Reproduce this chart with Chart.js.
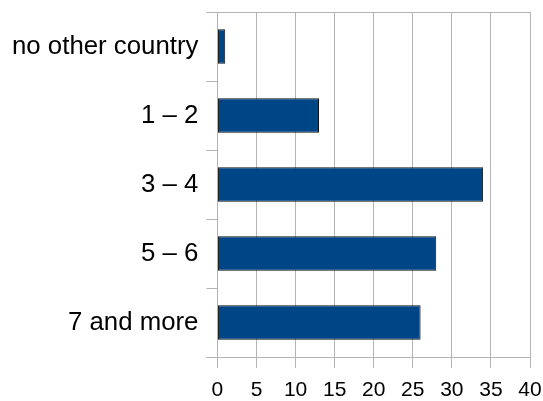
<!DOCTYPE html>
<html>
<head>
<meta charset="utf-8">
<script src="https://cdn.jsdelivr.net/npm/chart.js@4/dist/chart.umd.min.js"></script>
<style>
html,body{margin:0;padding:0;background:#fff;}
#wrap{width:543px;height:401px;position:relative;}
</style>
</head>
<body>
<div id="wrap"><canvas id="c" width="543" height="401"></canvas></div>
<script>
const categories = ["no other country", "1 – 2", "3 – 4", "5 – 6", "7 and more"];
const values = [1, 13, 34, 28, 26];
const xMin = 0, xMax = 40, xStep = 5;

const gridColor = '#b3b3b3';
new Chart(document.getElementById('c'), {
  type: 'bar',
  data: {
    labels: categories,
    datasets: [{
      data: values,
      backgroundColor: '#004586',
      borderColor: '#111111',
      borderWidth: 1,
      borderSkipped: false,
      barPercentage: 0.5,
      categoryPercentage: 1
    }]
  },
  options: {
    indexAxis: 'y',
    responsive: false,
    animation: false,
    layout: { padding: { top: 12, right: 2, left: 4, bottom: 0 } },
    plugins: { legend: { display: false }, tooltip: { enabled: false } },
    scales: {
      x: {
        min: xMin, max: xMax,
        afterFit: (s) => { s.height = 44; s.paddingRight = 13; s.paddingLeft = 0; },
        ticks: { stepSize: xStep, color: '#000', font: { family: 'Liberation Sans', size: 21, lineHeight: 1 }, padding: 12, maxRotation: 0 },
        grid: { color: gridColor, tickLength: 11, lineWidth: 1 },
        border: { color: gridColor }
      },
      x2: {
        position: 'top',
        display: true,
        min: xMin, max: xMax,
        afterFit: (s) => { s.paddingRight = 0; s.paddingLeft = 0; },
        ticks: { display: false },
        grid: { display: false, drawTicks: false },
        border: { display: true, color: gridColor }
      },
      y: {
        offset: true,
        afterFit: (s) => { s.paddingTop = 0; s.paddingBottom = 0; },
        ticks: { color: '#000', font: { family: 'Liberation Sans', size: 25.8 }, padding: 8 },
        grid: {
          offset: true,
          drawOnChartArea: true,
          color: (ctx) => (ctx.index === 0 || ctx.index === undefined) ? gridColor : 'rgba(0,0,0,0)',
          tickColor: gridColor,
          tickLength: 11
        },
        border: { color: gridColor }
      }
    }
  }
});
</script>
</body>
</html>
